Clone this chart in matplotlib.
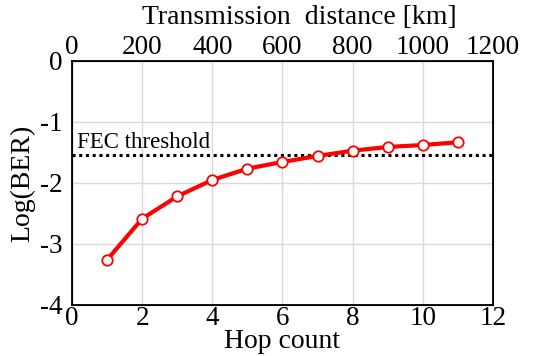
import numpy as np
import matplotlib.pyplot as plt

plt.rcParams['font.family'] = ['Liberation Serif', 'DejaVu Serif']
plt.rcParams['axes.unicode_minus'] = False

# Данные
hops = [1, 2, 3, 4, 5, 6, 7, 8, 9, 10, 11]
log_ber = [-3.26, -2.585, -2.22, -1.95, -1.765, -1.655, -1.557, -1.47, -1.41, -1.377, -1.333]
fec_threshold = -1.535
km_per_hop = 100

fig = plt.figure(figsize=(5.49, 3.56), dpi=100)
ax = fig.add_axes([0.1311, 0.1433, 0.7669, 0.6854])

ax.plot(hops, log_ber, color='#ff0000', lw=3.0, marker='o', ms=7.5,
        mfc='white', mec='#ff0000', mew=1.3, zorder=3)
ax.axhline(fec_threshold, color='black', ls=(0, (1, 1.2)), lw=2.2, zorder=2)
ax.text(0.14, -1.43, 'FEC threshold', fontsize=16.5, va='baseline', ha='left')

ax.set_xlim(0, 12)
ax.set_ylim(-4, 0)
ax.set_xticks(np.arange(0, 13, 2))
ax.set_yticks(np.arange(-4, 1, 1))
ax.grid(True, color='#d9d9d9', lw=1.0)
ax.set_axisbelow(True)
ax.tick_params(length=0, labelsize=19.5, pad=1)
ax.tick_params(axis='y', pad=7)
for s in ax.spines.values():
    s.set_linewidth(1.3)

ax.set_xlabel('Hop count', fontsize=20, labelpad=-1.5)
ax.set_ylabel('Log(BER)', fontsize=20, labelpad=3)

# верхняя ось: расстояние
ax2 = ax.twiny()
ax2.set_xlim(0, 12 * km_per_hop)
ax2.set_xticks(np.arange(0, 1201, 200))
ax2.tick_params(length=0, labelsize=19.5, pad=1)
ax2.set_xlabel('Transmission  distance [km]', fontsize=20, labelpad=0)
ax2.xaxis.set_label_coords(0.54, 1.15)

fig.savefig('out.png', dpi=100)
